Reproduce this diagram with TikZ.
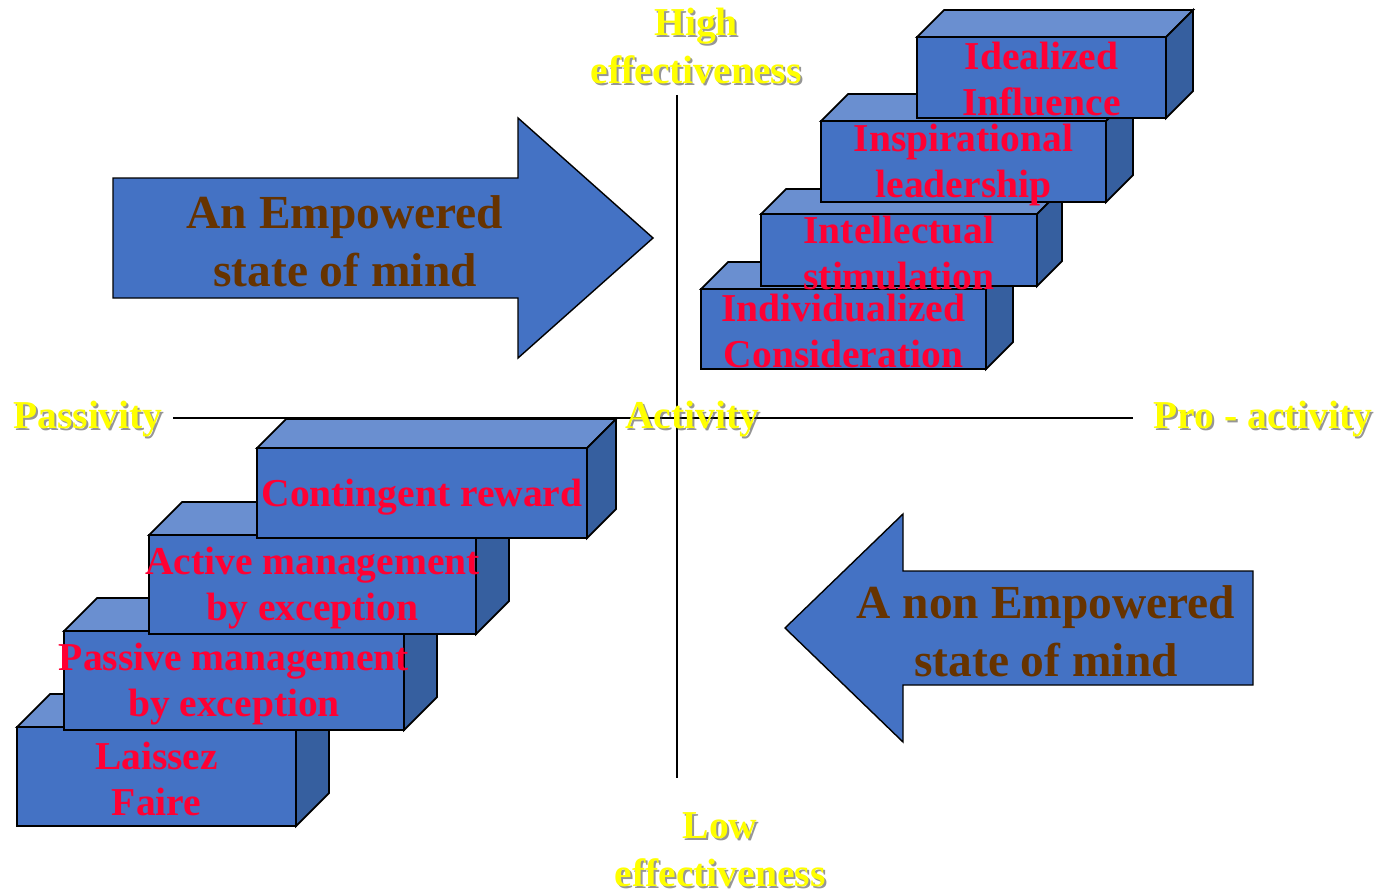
\documentclass[tikz,border=0pt]{standalone}
\usepackage{fontspec}
\setmainfont{Liberation Serif}

\definecolor{boxfront}{HTML}{4472C4}
\definecolor{boxtop}{HTML}{6A8FD0}
\definecolor{boxside}{HTML}{365F9F}
\definecolor{stepred}{HTML}{FF0033}
\definecolor{mindbrown}{HTML}{663300}
\definecolor{axisyellow}{HTML}{FFFF00}

\tikzset{
  facefill/.style={draw=black, line width=1pt},
  steptext/.style={text=stepred, font=\bfseries\fontsize{22.5}{26.7}\selectfont,
    align=center, inner sep=0pt},
  axislabel/.style={text=axisyellow, font=\bfseries\fontsize{22.5}{27.3}\selectfont,
    align=center, inner sep=0pt},
  labelshadow/.style={axislabel, text=black!75, opacity=0.55},
  axisline/.style={draw=black, line width=0.8pt},
  mindarrow/.style={fill=boxfront, draw=black, line width=0.8pt},
  mindtext/.style={text=mindbrown, font=\bfseries\fontsize{27}{33}\selectfont,
    align=center, inner sep=0pt},
}

% one 3d step: name, left, top, right, bottom, depth, text, text y
\newcommand{\stepblock}[8]{%
  \filldraw[facefill, fill=boxtop] (#2,#3) -- (#2+#6,#3-#6) -- (#4+#6,#3-#6) -- (#4,#3) -- cycle;
  \filldraw[facefill, fill=boxside] (#4,#3) -- (#4+#6,#3-#6) -- (#4+#6,#5-#6) -- (#4,#5) -- cycle;
  \filldraw[facefill, fill=boxfront] (#2,#3) rectangle (#4,#5);
  \node[steptext] (#1) at ({(#2+#4)/2},#8) {#7};
}

% yellow label with its drop shadow: name, x, y, text
\newcommand{\axistag}[4]{%
  \node[labelshadow] at (#2+2,#3+2) {#4};
  \node[axislabel] (#1) at (#2,#3) {#4};
}

\begin{document}
\begin{tikzpicture}[x=0.02cm, y=-0.02cm]
  \useasboundingbox (0,0) rectangle (1382,892);

  % axes
  \coordinate (axtop)    at (677,95);
  \coordinate (axbottom) at (677,778);
  \coordinate (axleft)   at (173,418);
  \coordinate (axright)  at (1133,418);
  \draw[axisline] (axtop) -- (axbottom);
  \draw[axisline] (axleft) -- (axright);

  % big arrows
  \filldraw[mindarrow] (113,178) -- (518,178) -- (518,118) -- (653,238)
    -- (518,358) -- (518,298) -- (113,298) -- cycle;
  \node[mindtext] (empowered) at (345,241) {An Empowered\\state of mind};

  \filldraw[mindarrow] (1253,571) -- (903,571) -- (903,514) -- (785,628)
    -- (903,742) -- (903,685) -- (1253,685) -- cycle;
  \node[mindtext] (nonempowered) at (1046,631) {A non Empowered\\state of mind};

  % upper steps
  \stepblock{individualized}{701}{289}{986}{369}{27}{Individualized\\Consideration}{331}
  \stepblock{intellectual}{761}{214}{1037}{286}{25}{Intellectual\\stimulation}{253}
  \stepblock{inspirational}{821}{121}{1106}{202}{27}{Inspirational\\leadership}{165}
  \stepblock{idealized}{917}{37}{1166}{118}{27}{Idealized\\Influence}{79}

  % lower steps
  \stepblock{laissez}{17}{727}{296}{826}{33}{Laissez\\Faire}{779}
  \stepblock{passive}{64}{631}{404}{730}{33}{Passive management\\by exception}{684}
  \stepblock{active}{149}{535}{476}{634}{33}{Active management\\by exception}{588}
  \stepblock{contingent}{257}{448}{587}{538}{29}{Contingent reward}{497}

  % axis labels
  \axistag{high}{696}{46}{High\\effectiveness}
  \axistag{low}{720}{850}{Low\\effectiveness}
  \axistag{passivity}{88}{419}{Passivity}
  \axistag{activity}{692}{419}{Activity}
  \axistag{proactivity}{1263}{419}{Pro - activity}
\end{tikzpicture}
\end{document}
